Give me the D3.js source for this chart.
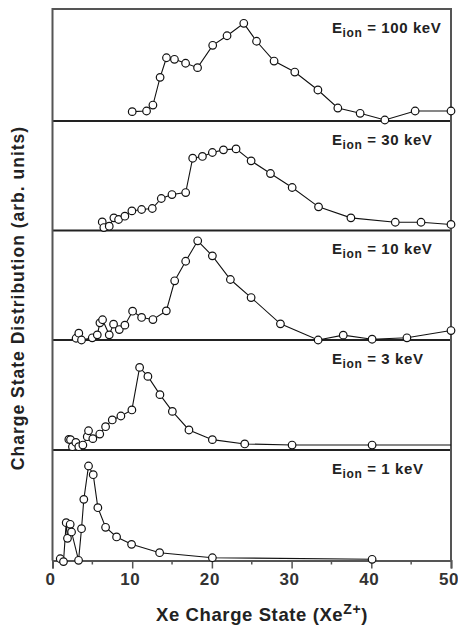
<!DOCTYPE html>
<html>
<head>
<meta charset="utf-8">
<script src="https://cdn.jsdelivr.net/npm/d3@7"></script>
<style>
  html, body { margin: 0; padding: 0; background: #fff; }
  svg { display: block; font-family: "Liberation Sans", Arial, Helvetica, sans-serif; }
</style>
</head>
<body>
<svg id="chart" width="458" height="625"></svg>
<script>
// Xe charge state distributions for five ion energies (arbitrary units, 0..1 per panel)

const energies = ["100", "30", "10", "3", "1"];

// 100 keV
const q100 = [10.0, 11.8, 12.6, 13.5, 14.3, 15.3, 16.7, 18.2, 20.1, 21.9, 24.0, 25.6, 27.8, 30.4, 33.3, 35.8, 38.6, 41.7, 45.5, 50.0];
const d100 = [0.085, 0.091, 0.145, 0.397, 0.575, 0.561, 0.525, 0.485, 0.688, 0.775, 0.888, 0.725, 0.545, 0.445, 0.282, 0.118, 0.070, 0.009, 0.091, 0.091];

// 30 keV
const q30 = [6.24, 6.44, 7.12, 7.70, 8.29, 9.08, 9.96, 11.18, 12.52, 13.65, 14.99, 16.71, 17.59, 18.81, 20.06, 21.45, 23.03, 24.92, 27.35, 30.07, 33.38, 37.44, 43.01, 46.24, 50.0];
const d30 = [0.078, 0.027, 0.039, 0.115, 0.100, 0.130, 0.178, 0.191, 0.200, 0.291, 0.327, 0.345, 0.657, 0.673, 0.709, 0.733, 0.742, 0.633, 0.518, 0.391, 0.215, 0.115, 0.075, 0.075, 0.055];

// 10 keV
const q10 = [2.96, 3.30, 3.64, 4.99, 5.62, 5.95, 6.28, 7.12, 7.66, 8.38, 9.08, 10.05, 11.18, 12.60, 14.28, 15.33, 16.71, 18.22, 20.06, 22.32, 24.92, 28.60, 33.33, 36.48, 40.10, 44.47, 50.0];
const d10 = [0.016, 0.062, 0.000, 0.020, 0.047, 0.156, 0.184, 0.047, 0.144, 0.095, 0.135, 0.262, 0.205, 0.186, 0.265, 0.538, 0.716, 0.902, 0.765, 0.550, 0.386, 0.147, 0.000, 0.044, 0.007, 0.020, 0.086];

// 3 keV (last entry lies past the axis end; only its line segment shows)
const q3 = [2.05, 2.26, 2.50, 2.93, 3.30, 3.81, 4.36, 4.52, 5.06, 5.93, 6.66, 7.50, 8.58, 9.96, 10.93, 11.97, 13.48, 15.04, 17.12, 20.06, 24.12, 30.06, 40.10, 60.0];
const d3v = [0.096, 0.094, 0.030, 0.069, 0.030, 0.045, 0.121, 0.175, 0.103, 0.145, 0.212, 0.273, 0.309, 0.364, 0.751, 0.669, 0.503, 0.351, 0.182, 0.094, 0.055, 0.045, 0.045, 0.045];

// 1 keV
const q1 = [0.97, 1.38, 1.72, 1.88, 2.22, 2.39, 3.27, 3.64, 3.93, 4.52, 5.11, 5.69, 6.66, 8.04, 9.92, 13.44, 20.06, 40.10];
const d1 = [0.016, -0.010, 0.344, 0.202, 0.329, 0.259, 0.002, 0.289, 0.556, 0.859, 0.780, 0.480, 0.302, 0.214, 0.147, 0.071, 0.025, 0.011];

const xTicks = [0, 10, 20, 30, 40, 50];
const xMinor = [5, 15, 25, 35, 45];

const series = [
  { energy: energies[0], q: q100, d: d100 },
  { energy: energies[1], q: q30, d: d30 },
  { energy: energies[2], q: q10, d: d10 },
  { energy: energies[3], q: q3, d: d3v },
  { energy: energies[4], q: q1, d: d1 }
];

// layout
const plotLeft = 52.5, plotRight = 451, plotTop = 9;
const panelEdges = [9, 121, 230.5, 340, 450, 560.5];
const unitH = 110;

const svg = d3.select("#chart");
const x = d3.scaleLinear().domain([0, 50]).range([plotLeft, plotRight]);

svg.append("defs").append("clipPath").attr("id", "plotClip")
  .append("rect").attr("x", plotLeft).attr("y", plotTop)
  .attr("width", plotRight - plotLeft).attr("height", panelEdges[5] - plotTop);

// panel separators
svg.append("g").selectAll("line")
  .data(panelEdges.slice(1, 5))
  .join("line")
  .attr("x1", plotLeft).attr("x2", plotRight)
  .attr("y1", d => d).attr("y2", d => d)
  .attr("stroke", "#222").attr("stroke-width", 2);

// outer frame (left, top, right)
svg.append("path")
  .attr("stroke", "#555").attr("stroke-width", 2).attr("fill", "none")
  .attr("d", `M${plotLeft},${panelEdges[5]}V${plotTop}H${plotRight}V${panelEdges[5]}`);

// bottom axis
const xAxis = d3.axisBottom(x).tickValues(xTicks).tickSize(8).tickPadding(4).tickFormat(d3.format("d"));
const gx = svg.append("g").attr("transform", `translate(0,${panelEdges[5]})`).call(xAxis);
gx.select(".domain").attr("stroke", "#555").attr("stroke-width", 2);
gx.selectAll(".tick line").attr("stroke", "#555").attr("stroke-width", 1.5);
gx.selectAll(".tick text")
  .attr("dx", -2.5)
  .attr("font-size", 17).attr("font-weight", "bold").attr("fill", "#333")
  .attr("letter-spacing", 0.6)
  .attr("font-family", "Liberation Sans, Arial, sans-serif");

svg.append("g").attr("transform", `translate(0,${panelEdges[5]})`)
  .selectAll("line").data(xMinor).join("line")
  .attr("x1", d => x(d)).attr("x2", d => x(d))
  .attr("y1", 0).attr("y2", 4)
  .attr("stroke", "#555").attr("stroke-width", 1.5);

// data panels
series.forEach((s, i) => {
  const bottom = panelEdges[i + 1];
  const y = d3.scaleLinear().domain([0, 1]).range([bottom, bottom - unitH]);
  const pts = s.q.map((q, k) => ({ q, v: s.d[k] }));
  const g = svg.append("g");

  g.append("path")
    .datum(pts)
    .attr("clip-path", "url(#plotClip)")
    .attr("fill", "none").attr("stroke", "#111").attr("stroke-width", 1.1)
    .attr("d", d3.line().x(p => x(p.q)).y(p => y(p.v)));

  g.selectAll("circle")
    .data(pts.filter(p => p.q <= 50))
    .join("circle")
    .attr("cx", p => x(p.q)).attr("cy", p => y(p.v))
    .attr("r", 3.8)
    .attr("fill", "#fff").attr("stroke", "#111").attr("stroke-width", 1.2);

  const label = g.append("text")
    .attr("x", 332).attr("y", panelEdges[i] + 23.5)
    .attr("font-size", 15).attr("font-weight", "bold").attr("fill", "#222")
    .attr("letter-spacing", 0.6);
  label.append("tspan").text("E");
  label.append("tspan").attr("font-size", 12).attr("dy", 4).text("ion");
  label.append("tspan").attr("dy", -4).text(` = ${s.energy} keV`);
});

// axis titles
const xt = svg.append("text")
  .attr("x", 262).attr("y", 621)
  .attr("text-anchor", "middle")
  .attr("font-size", 18.5).attr("font-weight", "bold").attr("fill", "#222")
  .attr("letter-spacing", 0.6);
xt.append("tspan").text("Xe Charge State (Xe");
xt.append("tspan").attr("font-size", 14).attr("dy", -7).text("Z+");
xt.append("tspan").attr("dy", 7).text(")");

svg.append("text")
  .attr("transform", "translate(24,298) rotate(-90)")
  .attr("text-anchor", "middle")
  .attr("font-size", 17.5).attr("font-weight", "bold").attr("fill", "#222")
  .attr("letter-spacing", 1)
  .text("Charge State Distribution (arb. units)");
</script>
</body>
</html>
